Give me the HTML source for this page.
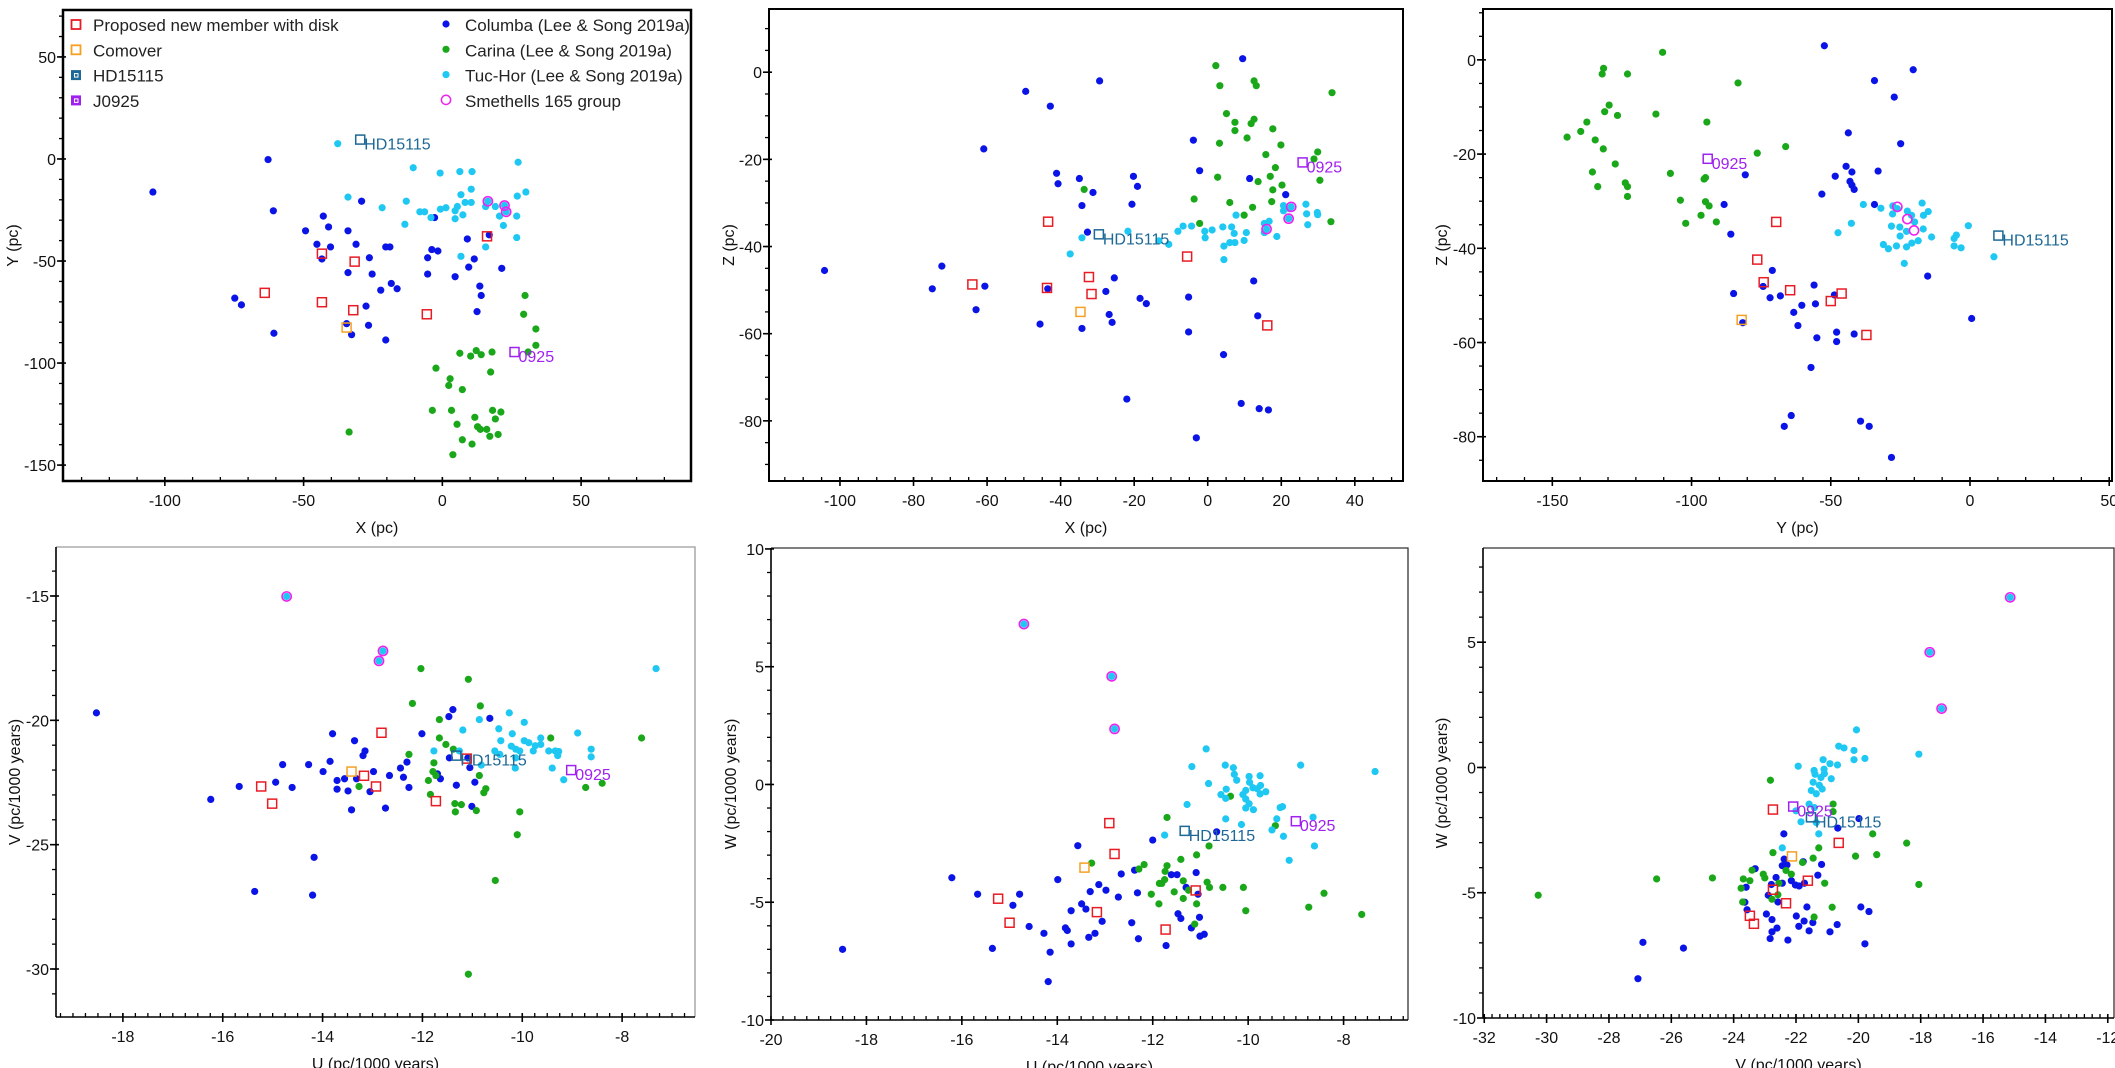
<!DOCTYPE html>
<html><head><meta charset="utf-8"><title>Kinematic and spatial distributions of Columba, Carina, Tuc-Hor and the proposed new members</title>
<style>
html,body{margin:0;padding:0;background:#fff;}
svg{display:block;font-family:"Liberation Sans",Arial,sans-serif;}
</style></head>
<body>
<svg id="fig" width="2115" height="1068" viewBox="0 0 2115 1068" xmlns="http://www.w3.org/2000/svg">
<rect x="0" y="0" width="2115" height="1068" fill="#fff"/>
</svg>
<script>
// ---------- Panel 1: X vs Y (pc) ----------
const p1Columba=[[-104.3,-16.2],[-62.8,-0.3],[-60.9,-25.4],[-42.9,-28],[-49.3,-35.2],[-41,-33.3],[-34,-35.2],[-29.1,-20.7],[-45.2,-41.8],[-40.3,-43.1],[-31.1,-41.8],[-43.4,-49],[-26.3,-48.4],[-34,-55.7],[-25.3,-56.4],[-20.4,-43.1],[-18.9,-43.1],[-18.4,-61],[-22.2,-64.3],[-16.3,-63.6],[-2.8,-28.7],[-3.8,-44.4],[-1.6,-45.1],[-5.3,-48.4],[-5.3,-56.4],[4.6,-57.7],[9,-39.2],[11.5,-49],[9.5,-53],[13.5,-62.3],[14,-66.9],[12.5,-74.8],[16.9,-37.2],[21.4,-53.6],[-74.8,-68.2],[-72.4,-71.5],[-60.7,-85.4],[-27.5,-72.1],[-26.6,-81.5],[-34.5,-80.7],[-32.7,-86.1],[-20.4,-88.7]];
const p1Carina=[[29.8,-66.9],[29.3,-76.1],[33.7,-83.3],[33.7,-91.3],[30.9,-94.6],[6.3,-95.2],[10.2,-96.6],[12.2,-93.9],[14,-95.9],[17.9,-94.6],[-2.3,-102.5],[2.8,-107.7],[2.3,-111],[7.2,-113],[17.4,-104.4],[-3.6,-123.2],[3.3,-123.2],[11.7,-126.6],[5.3,-130],[12.7,-131.2],[13.7,-132.5],[16,-132.5],[7.2,-137.6],[17.1,-135.9],[20.1,-135],[10.7,-139.7],[3.8,-144.9],[18.1,-123.2],[21.1,-124],[19.1,-127.4],[-33.6,-133.8]];
const p1TucHor=[[-37.7,7.5],[-10.5,-4.3],[-0.8,-6.9],[6.3,-6.2],[10.7,-6.2],[27.3,-1.6],[27,-18.2],[30.1,-16.2],[-34,-18.7],[-21.7,-23.9],[-13,-20.7],[-8.1,-25.9],[-6.4,-25.9],[-0.7,-24.6],[1.3,-23.9],[-4.1,-28.7],[-13.5,-32],[4.6,-25.4],[5.4,-23.3],[6.7,-17.5],[10.4,-14.8],[8.2,-21.3],[10.4,-21.3],[7.4,-27.4],[4.6,-29.3],[15.6,-23.3],[19.1,-23.3],[20.6,-28],[22,-32.6],[26.8,-28],[26.8,-38.5],[15.6,-43.1],[6.7,-47.7],[16.4,-20.7],[22.4,-22.8],[23,-25.9]];
const p1Smethells=[[16.4,-20.7],[22.4,-22.8],[23,-25.9]];
const p1Proposed=[[-43.4,-46.4],[-31.6,-50.3],[-64,-65.6],[-43.4,-70.2],[-32.1,-74.1],[-5.6,-76.1],[16.1,-37.9]];
const p1Comover=[[-34.5,-82.6]];
const p1HD=[[-29.6,9.5]];
const p1J0925=[[26,-94.6]];
const p1XTicks=[-100,-50,0,50];
const p1YTicks=[-150,-100,-50,0,50];

// ---------- Panel 2: X vs Z (pc) ----------
const p2Columba=[[-104.2,-45.5],[-72.3,-44.5],[-74.9,-49.7],[-60.6,-49.1],[-63,-54.5],[-49.5,-4.4],[-42.8,-7.8],[-60.9,-17.6],[-29.4,-2],[-41.1,-23.2],[-40.7,-25.6],[-34.9,-24.4],[-31.2,-27.6],[-34.2,-30.6],[-32.7,-36.7],[-20.2,-23.9],[-19.1,-26.2],[-20.6,-30.3],[-43.5,-49.7],[-45.6,-57.8],[-34.2,-58.8],[-25.4,-47.2],[-27.7,-50.3],[-26.8,-55.6],[-26,-57.4],[-18.4,-51.9],[-16.7,-53.1],[-22,-75],[-3.9,-15.6],[-2.2,-22.6],[11.4,-24.4],[9.5,3.1],[21.2,-28.1],[-5.2,-51.6],[-5.2,-59.6],[12.5,-47.9],[13.6,-55.9],[4.3,-64.8],[9.1,-76],[14,-77.2],[16.5,-77.5],[-3.1,-83.9]];
const p2Carina=[[2.2,1.5],[3.3,-3.1],[12.6,-2],[13.2,-3.1],[33.8,-4.7],[5.1,-9.5],[7.4,-11.5],[7.4,-13.4],[11.8,-11.8],[12.6,-10.8],[17.7,-13],[10.7,-15.1],[3.2,-16.3],[19.9,-16.7],[15.8,-18.9],[29.9,-18.3],[28.9,-19.9],[18.4,-21.9],[2.7,-24.1],[13.7,-25.1],[17,-23.9],[30.5,-24.8],[20.2,-25.9],[17.7,-27],[-3.7,-29.1],[6,-29.9],[12.2,-31],[17.4,-29.7],[9.9,-32.8],[-2.2,-34.7],[33.5,-34.3],[-33.6,-26.9]];
const p2TucHor=[[-37.4,-41.7],[-34.2,-38],[-21.7,-36.5],[-13.3,-38.7],[-10.6,-39.5],[-8.1,-36.5],[-6.7,-35.3],[-4.4,-35.3],[-0.8,-36.5],[-0.7,-38],[1.2,-36.2],[4.1,-35.5],[4.4,-39.9],[4.4,-43],[6,-39.1],[6.5,-35.5],[7.2,-37],[7.4,-39.1],[7.7,-32.8],[9.9,-38.6],[10.5,-36.8],[15.4,-34.7],[15.4,-36.8],[16.7,-34.2],[18.8,-37.7],[20.6,-30.6],[20.6,-31.8],[22.2,-31.3],[22,-33.6],[26.7,-30.3],[26.9,-32.5],[27.2,-35],[29.8,-32.2],[29.9,-32.7],[16,-36],[22.7,-30.9]];
const p2Smethells=[[22.7,-30.9],[22,-33.6],[16,-36]];
const p2Proposed=[[-43.4,-34.3],[-64,-48.7],[-43.7,-49.5],[-32.3,-47],[-31.6,-50.9],[-5.6,-42.3],[16.2,-58.1]];
const p2Comover=[[-34.6,-55]];
const p2HD=[[-29.6,-37.2]];
const p2J0925=[[25.8,-20.7]];
const p2XTicks=[-100,-80,-60,-40,-20,0,20,40];
const p2YTicks=[-80,-60,-40,-20,0];

// ---------- Panel 3: Y vs Z (pc) ----------
const p3Columba=[[-52.3,3],[-20.4,-2.1],[-34.3,-4.4],[-27.2,-7.9],[-43.7,-15.5],[-24.9,-17.8],[-44.5,-22.6],[-42.4,-23.8],[-48.4,-24.7],[-43.1,-25.8],[-42.4,-26.6],[-41.6,-27.5],[-33,-23.6],[-53.2,-28.5],[-80.7,-24.4],[-88.3,-30.7],[-34.3,-30.7],[-85.9,-37],[-71,-44.7],[-74.3,-48.1],[-84.9,-49.6],[-71.8,-50.5],[-68.1,-50.1],[-56,-47.8],[-60.4,-52.1],[-55.5,-51.8],[-63.3,-53.6],[-48.7,-49.9],[-61.8,-56.4],[-47.9,-57.8],[-41.6,-58.2],[-55,-59],[-47.9,-59.8],[-81.6,-55.8],[-57.1,-65.3],[-15.2,-45.9],[0.6,-54.9],[-64.2,-75.5],[-66.7,-77.8],[-39.3,-76.7],[-36.2,-77.8],[-28.2,-84.4]];
const p3Carina=[[-144.7,-16.4],[-139.8,-15.2],[-137.6,-13.2],[-134.6,-17],[-131.7,-18.9],[-135.6,-23.8],[-133.7,-26.9],[-131.2,-11],[-129.6,-9.6],[-132.1,-3],[-131.6,-1.8],[-123,-3],[-126.6,-11.8],[-127.4,-22.1],[-123.8,-26.1],[-123,-26.9],[-123,-29],[-112.8,-11.5],[-110.4,1.6],[-107.6,-24.1],[-104,-29.8],[-102.1,-34.7],[-96.6,-33],[-95,-30.1],[-93.7,-31],[-95,-25],[-95.5,-25.3],[-94.5,-13.2],[-91.1,-34.4],[-83.3,-4.9],[-76.4,-19.8],[-66.2,-18.4]];
const p3TucHor=[[-38.3,-30.7],[-32,-31.5],[-42.6,-34.7],[-47.4,-36.7],[-27.7,-31],[-27.8,-32.7],[-26.1,-31.6],[-22.5,-32.1],[-21,-33],[-17.2,-30.4],[-15,-32.2],[-16.7,-33],[-28.2,-35.3],[-25.2,-35.5],[-22.8,-36.4],[-25.1,-37.4],[-19.9,-34.4],[-16.8,-35.9],[-13.8,-37.6],[-18.6,-38.4],[-22.8,-39.7],[-26.4,-39.5],[-31.1,-39.2],[-29.3,-40.1],[-23.6,-43.2],[-20.9,-38.9],[-5.7,-37.9],[-4.9,-37.2],[-5.7,-39.5],[-3.2,-39.9],[-0.6,-35.2],[8.6,-41.8]];
const p3Smethells=[[-26.1,-31.2],[-22.5,-33.8],[-20.1,-36.2]];
const p3Proposed=[[-69.6,-34.4],[-76.4,-42.4],[-74.1,-47.2],[-64.6,-48.9],[-50,-51.2],[-46.1,-49.6],[-37.2,-58.4]];
const p3Comover=[[-82,-55.2]];
const p3HD=[[10.2,-37.3]];
const p3J0925=[[-94.2,-21]];
const p3XTicks=[-150,-100,-50,0,50];
const p3YTicks=[-80,-60,-40,-20,0];

// ---------- Panel 4: U vs V ----------
const p4Columba=[[-18.53,-19.7],[-16.24,-23.18],[-15.67,-22.66],[-14.94,-22.49],[-14.8,-21.78],[-14.61,-22.7],[-14.28,-21.78],[-13.99,-22.06],[-13.85,-21.65],[-13.8,-20.54],[-13.71,-22.42],[-13.71,-22.77],[-13.56,-22.35],[-13.49,-22.84],[-13.42,-23.6],[-13.36,-20.82],[-13.32,-22.35],[-13.19,-21.42],[-13.15,-21.23],[-13.05,-22.87],[-12.98,-22.06],[-12.74,-23.53],[-12.66,-22.22],[-12.44,-21.92],[-12.38,-22.29],[-12.31,-21.68],[-12.27,-22.7],[-12.01,-20.54],[-11.7,-22.15],[-11.64,-22.35],[-11.47,-19.85],[-11.39,-19.57],[-11.32,-22.61],[-11.05,-21.9],[-11.09,-21.51],[-10.95,-22.49],[-10.65,-19.92],[-11.01,-23.46],[-15.36,-26.88],[-14.17,-25.51],[-14.2,-27.03],[-11.46,-21.51]];
const p4Carina=[[-12.03,-17.92],[-11.08,-18.35],[-12.2,-19.32],[-10.84,-19.42],[-11.66,-19.97],[-11.66,-20.71],[-11.53,-20.97],[-11.38,-21.16],[-12.27,-21.37],[-11.77,-21.71],[-11.79,-22.06],[-11.73,-22.22],[-11.88,-22.42],[-10.86,-22.22],[-11.84,-22.98],[-10.77,-22.91],[-10.73,-22.75],[-11.35,-23.35],[-11.22,-23.39],[-11.34,-23.68],[-10.92,-23.63],[-13.27,-22.66],[-10.05,-23.68],[-10.1,-24.6],[-10.54,-26.44],[-11.08,-30.21],[-9.43,-20.71],[-8.73,-22.7],[-8.4,-22.53],[-7.61,-20.71]];
const p4TucHor=[[-14.72,-15.02],[-12.79,-17.21],[-12.87,-17.61],[-7.32,-17.92],[-11.19,-20.39],[-10.86,-19.97],[-10.26,-19.7],[-9.96,-20.08],[-10.47,-20.34],[-10.2,-20.54],[-10.43,-20.82],[-10.22,-21.04],[-10.13,-21.16],[-9.96,-20.82],[-9.87,-20.9],[-9.74,-21.02],[-9.63,-20.71],[-9.63,-20.97],[-9.78,-21.23],[-10.05,-21.23],[-10.55,-21.23],[-10.45,-21.37],[-10.13,-21.51],[-9.47,-21.23],[-9.34,-21.23],[-9.27,-21.25],[-9.29,-21.42],[-8.89,-20.51],[-8.62,-21.16],[-8.62,-21.47],[-9.4,-21.92],[-9.17,-22.39],[-10.14,-21.92],[-11.77,-21.23],[-11.26,-21.23],[-10.82,-21.8]];
const p4Smethells=[[-14.72,-15.02],[-12.79,-17.21],[-12.87,-17.61]];
const p4Proposed=[[-15.23,-22.66],[-15.01,-23.35],[-12.82,-20.5],[-13.17,-22.23],[-12.93,-22.66],[-11.73,-23.25],[-11.11,-21.54]];
const p4Comover=[[-13.42,-22.06]];
const p4HD=[[-11.32,-21.42]];
const p4J0925=[[-9.02,-22.0]];
const p4XTicks=[-18,-16,-14,-12,-10,-8];
const p4YTicks=[-30,-25,-20,-15];

// ---------- Panel 5: U vs W ----------
const p5Columba=[[-18.5,-7],[-16.21,-3.96],[-15.67,-4.66],[-15.36,-6.96],[-14.93,-5.13],[-14.79,-4.66],[-14.59,-6.03],[-14.28,-6.32],[-14.15,-7.12],[-14.19,-8.37],[-13.99,-4.04],[-13.83,-6.09],[-13.79,-6.2],[-13.71,-6.77],[-13.71,-5.36],[-13.57,-2.6],[-13.49,-5.07],[-13.4,-5.29],[-13.31,-4.55],[-13.34,-6.49],[-13.21,-6.32],[-13.13,-4.25],[-13.06,-5.81],[-12.98,-4.49],[-12.72,-4.78],[-12.66,-3.8],[-12.44,-5.87],[-12.38,-3.64],[-12.32,-4.6],[-12.3,-6.55],[-12,-2.36],[-11.72,-6.84],[-11.61,-3.83],[-11.49,-3.83],[-11.47,-5.49],[-11.41,-5.69],[-11.3,-4.37],[-11.19,-6.09],[-11.09,-3.74],[-11.05,-4.66],[-11.02,-5.64],[-11.01,-6.44],[-10.92,-6.36],[-10.66,-2.01]];
const p5Carina=[[-10.37,-0.5],[-11.7,-1.4],[-9.43,-1.75],[-10.82,-2.61],[-11.08,-2.99],[-11.41,-3.18],[-13.28,-3.34],[-12.18,-3.4],[-12.29,-3.59],[-11.7,-3.45],[-11.74,-3.69],[-11.36,-4.09],[-11.81,-4.2],[-11.86,-4.2],[-11.75,-4.04],[-10.86,-4.15],[-10.81,-4.37],[-10.53,-4.37],[-10.1,-4.37],[-11.25,-4.49],[-11.55,-4.56],[-12.03,-4.66],[-11.36,-4.84],[-11.87,-5.07],[-11.08,-5.07],[-10.05,-5.36],[-8.73,-5.21],[-8.41,-4.62],[-7.62,-5.52],[-11.12,-5.93]];
const p5TucHor=[[-14.7,6.81],[-12.86,4.59],[-12.8,2.36],[-10.88,1.51],[-11.18,0.76],[-10.48,0.82],[-10.31,0.71],[-10.29,0.43],[-10.24,0.18],[-9.98,0.34],[-9.75,0.37],[-8.9,0.82],[-7.34,0.55],[-10.83,0.04],[-10.46,-0.2],[-10.57,-0.43],[-10.47,-0.59],[-10.11,-0.43],[-10.05,-0.25],[-9.97,0.09],[-9.9,-0.14],[-9.81,-0.18],[-9.74,-0.04],[-9.63,-0.31],[-9.75,-0.4],[-10.05,-0.62],[-9.98,-0.82],[-10.05,-1],[-9.89,-1.07],[-11.28,-0.85],[-10.47,-1.46],[-10.14,-1.7],[-9.33,-0.98],[-9.28,-0.94],[-9.4,-1.46],[-9.5,-1.93],[-9.26,-2.2],[-8.64,-1.39],[-8.61,-2.61],[-9.14,-3.22],[-11.75,-2.15]];
const p5Smethells=[[-14.7,6.81],[-12.86,4.59],[-12.8,2.36]];
const p5Proposed=[[-12.91,-1.64],[-12.8,-2.95],[-15.24,-4.85],[-15,-5.87],[-13.17,-5.42],[-11.73,-6.16],[-11.1,-4.5]];
const p5Comover=[[-13.43,-3.53]];
const p5HD=[[-11.33,-1.97]];
const p5J0925=[[-9.0,-1.56]];
const p5XTicks=[-20,-18,-16,-14,-12,-10,-8];
const p5YTicks=[-10,-5,0,5,10];

// ---------- Panel 6: V vs W ----------
const p6Columba=[[-22.39,-2.65],[-20.66,-2.42],[-19.98,-2.04],[-23.31,-4.04],[-22.38,-3.66],[-22.44,-3.92],[-22.29,-3.89],[-21.77,-3.76],[-21.18,-3.87],[-21.3,-4.3],[-22.15,-4.52],[-22.44,-4.62],[-22.64,-4.39],[-22.02,-4.69],[-21.9,-4.73],[-21.73,-4.62],[-23.6,-4.78],[-22.79,-4.67],[-22.89,-5.1],[-22.58,-5.37],[-23.64,-5.38],[-23.57,-5.68],[-22.95,-5.85],[-22.77,-6.07],[-22.61,-6.41],[-22.77,-6.56],[-22.83,-6.83],[-22.26,-6.89],[-21.99,-5.93],[-21.91,-6.34],[-21.74,-6.13],[-21.65,-5.57],[-21.58,-6.52],[-21.46,-6.19],[-20.91,-6.56],[-20.68,-6.27],[-19.92,-5.57],[-19.66,-5.75],[-19.79,-7.04],[-26.91,-6.98],[-25.61,-7.21],[-27.07,-8.43]];
const p6Carina=[[-22.82,-0.51],[-20.81,-1.46],[-20.81,-1.76],[-19.54,-2.65],[-18.45,-3.02],[-21.27,-3.21],[-22.74,-3.4],[-21.45,-3.62],[-20.09,-3.54],[-19.41,-3.48],[-21.79,-3.79],[-23.41,-4.1],[-23.05,-4.26],[-23,-4.41],[-23.69,-4.45],[-23.48,-4.52],[-26.47,-4.45],[-24.68,-4.41],[-22.32,-4.11],[-22.15,-4.26],[-22.55,-4.62],[-21.08,-4.62],[-18.06,-4.67],[-23.76,-4.82],[-22.58,-5.08],[-22.77,-5.26],[-23.71,-5.37],[-30.27,-5.1],[-20.84,-5.58],[-21.42,-5.97]];
const p6TucHor=[[-15.13,6.79],[-17.71,4.6],[-17.33,2.35],[-20.06,1.5],[-20.63,0.85],[-20.46,0.78],[-20.14,0.68],[-20.14,0.31],[-19.79,0.36],[-18.06,0.53],[-21.93,0.05],[-21.13,0.31],[-20.91,0.15],[-20.67,0.1],[-21.1,-0.07],[-21.42,-0.12],[-21.39,-0.27],[-21.09,-0.25],[-21.2,-0.4],[-20.87,-0.45],[-21.45,-0.59],[-21.25,-0.71],[-21.16,-0.86],[-21.51,-0.92],[-21.35,-1.05],[-21.58,-1.46],[-21.41,-1.6],[-22,-1.73],[-21.84,-2.17],[-21.27,-2.65],[-22.44,-3.21],[-21.35,-2.2]];
const p6Smethells=[[-15.13,6.79],[-17.71,4.6],[-17.33,2.35]];
const p6Proposed=[[-22.74,-1.68],[-20.63,-3.01],[-21.62,-4.52],[-22.74,-4.88],[-22.32,-5.42],[-23.48,-5.92],[-23.35,-6.24]];
const p6Comover=[[-22.13,-3.55]];
const p6HD=[[-21.52,-1.99]];
const p6J0925=[[-22.09,-1.56]];
const p6XTicks=[-32,-30,-28,-26,-24,-22,-20,-18,-16,-14,-12];
const p6YTicks=[-10,-5,0,5];

const NS='http://www.w3.org/2000/svg';
const svg=document.getElementById('fig');
function mk(tag,attrs,parent){const e=document.createElementNS(NS,tag);for(const k in attrs)e.setAttribute(k,attrs[k]);(parent||svg).appendChild(e);return e;}
const C={blue:'#0a14e6',green:'#1aa81a',cyan:'#1ec8f2',red:'#e81c24',orange:'#f5a023',hd:'#1c6896',j:'#a020f0',pink:'#ee22ee'};

function panel(cfg){
  const g=mk('g',{});
  
  
  const sx=v=>cfg.L+(v-cfg.x0)/(cfg.x1-cfg.x0)*(cfg.R-cfg.L);
  const sy=v=>cfg.B-(v-cfg.y0)/(cfg.y1-cfg.y0)*(cfg.B-cfg.T);
  const aw=cfg.aw;
  // frame
  if(cfg.full){
    const fr=mk('rect',{x:cfg.L,y:cfg.T,width:cfg.R-cfg.L,height:cfg.B-cfg.T,fill:'none',stroke:'#000','stroke-width':aw},g);
    
  } else {
    const t=mk('path',{d:`M${cfg.L} ${cfg.T}H${cfg.R}V${cfg.B}`,fill:'none',stroke:cfg.frameColor,'stroke-width':1.3},g);
    
    mk('line',{x1:cfg.L,y1:cfg.T,x2:cfg.L,y2:cfg.B,stroke:'#000','stroke-width':aw},g);
    mk('line',{x1:cfg.L,y1:cfg.B,x2:cfg.R,y2:cfg.B,stroke:'#000','stroke-width':aw},g);
  }
  // minor ticks
  const xa=mk('g',{},g);
  const ya=mk('g',{},g);
  for(let v=Math.ceil(cfg.x0/cfg.xm)*cfg.xm;v<=cfg.x1+1e-9;v+=cfg.xm){
    const x=sx(v);if(x<cfg.L+1||x>cfg.R-1)continue;
    mk('line',{x1:x,y1:cfg.B,x2:x,y2:cfg.B-4,stroke:'#000','stroke-width':1.3},xa);
  }
  for(let v=Math.ceil(cfg.y0/cfg.ym)*cfg.ym;v<=cfg.y1+1e-9;v+=cfg.ym){
    const y=sy(v);if(y<cfg.T+1||y>cfg.B-1)continue;
    mk('line',{x1:cfg.L,y1:y,x2:cfg.L-4,y2:y,stroke:'#000','stroke-width':1.3},ya);
  }
  cfg.xt.forEach(v=>{
    const x=sx(v);
    mk('line',{x1:x,y1:cfg.B-4,x2:x,y2:cfg.B+5,stroke:'#000','stroke-width':1.6},xa);
    const t=mk('text',{x:x,y:cfg.B+25,'text-anchor':'middle','font-size':cfg.fs,fill:'#111'},xa);
    t.textContent=String(v);
    
  });
  cfg.yt.forEach(v=>{
    const y=sy(v);
    mk('line',{x1:cfg.L-6,y1:y,x2:cfg.L+3,y2:y,stroke:'#000','stroke-width':1.6},ya);
    const t=mk('text',{x:cfg.L-7,y:y+6,'text-anchor':'end','font-size':cfg.fs,fill:'#111'},ya);
    t.textContent=String(v);
    
  });
  const xt=mk('text',{x:(cfg.L+cfg.R)/2,y:cfg.B+52,'text-anchor':'middle','font-size':cfg.fs,fill:'#111'},g);
  xt.textContent=cfg.xl;
  const yx=cfg.ytx,yy=(cfg.T+cfg.B)/2;
  const yt=mk('text',{x:yx,y:yy,'text-anchor':'middle','font-size':cfg.fs,fill:'#111',transform:`rotate(-90 ${yx} ${yy})`},g);
  yt.textContent=cfg.yl;
  // marks
  const dots=(arr,col,nm)=>{const s=mk('g',{},g);
    arr.forEach(p=>{const c=mk('circle',{cx:sx(p[0]),cy:sy(p[1]),r:3.6,fill:col},s);
      });};
  const rings=(arr,nm)=>{const s=mk('g',{},g);
    arr.forEach(p=>{const c=mk('circle',{cx:sx(p[0]),cy:sy(p[1]),r:4.6,fill:'none',stroke:C.pink,'stroke-width':1.6},s);
      });};
  const squares=(arr,col,nm,label)=>{const s=mk('g',{},g);
    arr.forEach(p=>{const x=sx(p[0]),y=sy(p[1]);
      const r=mk('rect',{x:x-4.5,y:y-4.5,width:9,height:9,fill:'none',stroke:col,'stroke-width':1.5},s);
      
      if(label){const t=mk('text',{x:x+4,y:y+10,'font-size':cfg.fs,fill:col},s);t.textContent=label;
        }
    });};
  dots(cfg.d.columba,C.blue,'columba-series');
  dots(cfg.d.carina,C.green,'carina-series');
  dots(cfg.d.tuchor,C.cyan,'tuc-hor-series');
  rings(cfg.d.smethells,'smethells-165-series');
  squares(cfg.d.proposed,C.red,'proposed-members-series');
  squares(cfg.d.comover,C.orange,'comover-series');
  squares(cfg.d.hd,C.hd,'hd15115-marker','HD15115');
  squares(cfg.d.j,C.j,'j0925-marker','0925');
}

panel({name:'panel-x-y',L:63,R:691,T:10,B:481,x0:-136.7,x1:89.6,y0:-157.8,y1:73,xm:10,ym:10,xt:p1XTicks,yt:p1YTicks,xl:'X (pc)',yl:'Y (pc)',ytx:18,full:true,aw:2.5,fs:16,
  d:{columba:p1Columba,carina:p1Carina,tuchor:p1TucHor,smethells:p1Smethells,proposed:p1Proposed,comover:p1Comover,hd:p1HD,j:p1J0925}});
panel({name:'panel-x-z',L:769,R:1403,T:9,B:481,x0:-119.3,x1:53.1,y0:-93.8,y1:14.5,xm:5,ym:5,xt:p2XTicks,yt:p2YTicks,xl:'X (pc)',yl:'Z (pc)',ytx:734,full:true,aw:2,fs:16,
  d:{columba:p2Columba,carina:p2Carina,tuchor:p2TucHor,smethells:p2Smethells,proposed:p2Proposed,comover:p2Comover,hd:p2HD,j:p2J0925}});
panel({name:'panel-y-z',L:1483,R:2112,T:9,B:481,x0:-174.9,x1:51,y0:-89.4,y1:10.8,xm:10,ym:5,xt:p3XTicks,yt:p3YTicks,xl:'Y (pc)',yl:'Z (pc)',ytx:1447,full:true,aw:2,fs:16,
  d:{columba:p3Columba,carina:p3Carina,tuchor:p3TucHor,smethells:p3Smethells,proposed:p3Proposed,comover:p3Comover,hd:p3HD,j:p3J0925}});
panel({name:'panel-u-v',L:56,R:695,T:547,B:1017,x0:-19.34,x1:-6.54,y0:-31.93,y1:-13.03,xm:0.25,ym:1,xt:p4XTicks,yt:p4YTicks,xl:'U (pc/1000 years)',yl:'V (pc/1000 years)',ytx:20,full:false,frameColor:'#9a9a9a',aw:1.6,fs:16,
  d:{columba:p4Columba,carina:p4Carina,tuchor:p4TucHor,smethells:p4Smethells,proposed:p4Proposed,comover:p4Comover,hd:p4HD,j:p4J0925}});
panel({name:'panel-u-w',L:771,R:1408,T:548,B:1020,x0:-20,x1:-6.65,y0:-10,y1:10.04,xm:0.25,ym:1,xt:p5XTicks,yt:p5YTicks,xl:'U (pc/1000 years)',yl:'W (pc/1000 years)',ytx:736,full:false,frameColor:'#333',aw:1.6,fs:16,
  d:{columba:p5Columba,carina:p5Carina,tuchor:p5TucHor,smethells:p5Smethells,proposed:p5Proposed,comover:p5Comover,hd:p5HD,j:p5J0925}});
panel({name:'panel-v-w',L:1483,R:2114,T:548,B:1018,x0:-32.04,x1:-11.8,y0:-10,y1:8.76,xm:0.25,ym:1,xt:p6XTicks,yt:p6YTicks,xl:'V (pc/1000 years)',yl:'W (pc/1000 years)',ytx:1447,full:false,frameColor:'#333',aw:1.6,fs:16,
  d:{columba:p6Columba,carina:p6Carina,tuchor:p6TucHor,smethells:p6Smethells,proposed:p6Proposed,comover:p6Comover,hd:p6HD,j:p6J0925}});

// ---------- Legend ----------
const legendLabels=['Proposed new member with disk','Comover','HD15115','J0925','Columba (Lee & Song 2019a)','Carina (Lee & Song 2019a)','Tuc-Hor (Lee & Song 2019a)','Smethells 165 group'];
const legendKinds=['sq','sq','sqf','sqf','dot','dot','dot','ring'];
const legendColors=[C.red,C.orange,C.hd,C.j,C.blue,C.green,C.cyan,C.pink];
const lg=mk('g',{});


legendLabels.forEach((lab,i)=>{
  const col=i<4?0:1, row=i%4;
  const mx=col?446:76, ty=25+row*25.3, tx=col?465:93;
  const e=mk('g',{},lg);
  
  
  const k=legendKinds[i],c=legendColors[i];
  if(k==='sq')mk('rect',{x:mx-4.5,y:ty-5,width:9,height:9,fill:'none',stroke:c,'stroke-width':1.8},e);
  else if(k==='sqf'){mk('rect',{x:mx-4.5,y:ty-5,width:9,height:9,fill:c,stroke:c,'stroke-width':1},e);mk('rect',{x:mx-1.5,y:ty-2,width:3.5,height:3.5,fill:'none',stroke:'#fff','stroke-width':1},e);}
  else if(k==='dot')mk('circle',{cx:mx,cy:ty-1,r:3.6,fill:c},e);
  else mk('circle',{cx:mx,cy:ty-1,r:4.6,fill:'none',stroke:c,'stroke-width':1.5},e);
  const t=mk('text',{x:tx,y:ty+6,'font-size':17,fill:'#222'},e);
  t.textContent=lab;
});
</script>
</body></html>
